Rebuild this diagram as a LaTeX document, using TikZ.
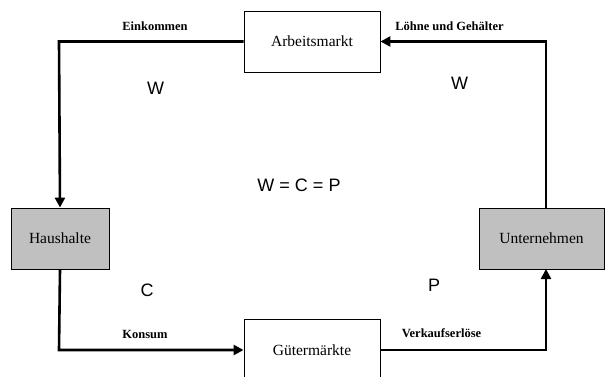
\documentclass[tikz,border=0pt]{standalone}
\usepackage{fontspec}
\setmainfont{Liberation Serif}
\newfontfamily\arialf{Liberation Sans}
\usetikzlibrary{arrows.meta}
\definecolor{boxgray}{HTML}{C0C0C0}
\begin{document}
\begin{tikzpicture}[x=1pt,y=-1pt,
  market/.style={draw=black,line width=0.9pt,fill=white,minimum width=136pt,minimum height=61pt,inner sep=0pt,font=\fontsize{15.5}{18}\selectfont},
  actor/.style={draw=black,line width=0.9pt,fill=boxgray,minimum height=61pt,inner sep=0pt,font=\fontsize{15.5}{18}\selectfont},
  flow/.style={line width=2.6pt,-{Triangle[length=10pt,width=10pt]}},
  flowlbl/.style={font=\bfseries\fontsize{12.5}{14}\selectfont,inner sep=0pt},
  sym/.style={font=\arialf\fontsize{18}{20}\selectfont,inner sep=0pt}]
\useasboundingbox (0,0) rectangle (606,376);
\clip (0,0) rectangle (606,376);
\node[market] (arb) at (312,41.5) {Arbeitsmarkt};
\node[market] (gut) at (312,350) {Gütermärkte};
\node[actor,minimum width=98pt] (hh) at (60,238.5) {Haushalte};
\node[actor,minimum width=125pt] (unt) at (541.5,238.5) {Unternehmen};
\coordinate (ul) at (59,41.5);
\coordinate (ur) at (546,41.5);
\coordinate (ll) at (59,350);
\coordinate (lr) at (546,350);
\coordinate (ut) at (546,208);
\coordinate (ub) at (546,269);
\draw[flow] (arb.west) -- (ul) -- (hh.north);
\draw[flow] (ut) -- (ur) -- (arb.east);
\draw[flow] (hh.south) -- (ll) -- (gut.west);
\draw[flow] (gut.east) -- (lr) -- (ub);
\node[flowlbl] (l1) at (155,26) {Einkommen};
\node[flowlbl] (l2) at (449.5,26) {Löhne und Gehälter};
\node[flowlbl] (l3) at (145,334) {Konsum};
\node[flowlbl] (l4) at (441.5,333) {Verkaufserlöse};
\node[sym] (w1) at (155.5,88.5) {W};
\node[sym] (w2) at (459.5,83) {W};
\node[sym] (c) at (147,290) {C};
\node[sym] (p) at (434,285) {P};
\node[sym] (eq) at (299,185) {W = C = P};
\end{tikzpicture}
\end{document}
